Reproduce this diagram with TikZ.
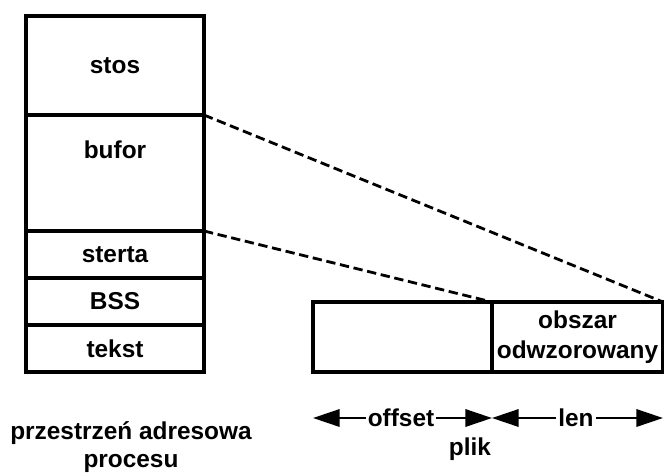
\documentclass[tikz,border=0pt]{standalone}
\usepackage{fontspec}
\setmainfont{Liberation Sans}
\usetikzlibrary{positioning,arrows.meta}

\begin{document}
\begin{tikzpicture}[x=0.75pt, y=-0.75pt,
    every node/.style={font=\bfseries\fontsize{18.3}{21}\selectfont},
    seg/.style={draw, line width=2.3pt, outer sep=0pt, inner sep=0pt, minimum width=133.5pt},
    link/.style={line width=2.1pt, dash pattern=on 7pt off 3.5pt},
    dim/.style={line width=1.8pt, -{Triangle[length=20pt,width=13pt]}},
    dimlbl/.style={inner sep=1.5pt}]
  \useasboundingbox (0,0) rectangle (664,472);
  % przestrzen adresowa procesu
  \node[seg, minimum height=74.25pt] (stos) at (115,65.5) {stos};
  \node[seg, minimum height=87pt, below=0pt of stos] (bufor) {};
  \node (buforlbl) at (115,150) {bufor};
  \node[seg, minimum height=35.25pt, below=0pt of bufor] (sterta) {sterta};
  \node[seg, minimum height=35.25pt, below=0pt of sterta] (bss) {BSS};
  \node[seg, minimum height=35.25pt, below=0pt of bss] (tekst) {tekst};
  \node[align=center, font=\bfseries\fontsize{18.3}{20.5}\selectfont] (proc) at (131,447) {przestrzeń adresowa\\procesu};
  % plik
  \node[seg, minimum width=134.25pt, minimum height=52.5pt] (offpart) at (402.5,337) {};
  \node[seg, minimum width=128.25pt, minimum height=52.5pt, right=0pt of offpart,
        align=center, font=\bfseries\fontsize{18.3}{22.5}\selectfont] (mapped) {obszar\\odwzorowany};
  \draw[link] (stos.south east) -- (mapped.north east);
  \draw[link] (bufor.south east) -- (mapped.north west);
  % offset i len
  \node[dimlbl] (offlbl) at (401,418) {offset};
  \node[dimlbl] (lenlbl) at (576,418) {len};
  \coordinate (offL) at (offpart.west |- offlbl);
  \coordinate (offR) at (offpart.east |- offlbl);
  \coordinate (lenR) at (mapped.east |- lenlbl);
  \draw[dim] (offlbl) -- (offL);
  \draw[dim] (offlbl) -- (offR);
  \draw[dim] (lenlbl) -- (offR);
  \draw[dim] (lenlbl) -- (lenR);
  \node (plik) at (470,449) {plik};
\end{tikzpicture}
\end{document}
